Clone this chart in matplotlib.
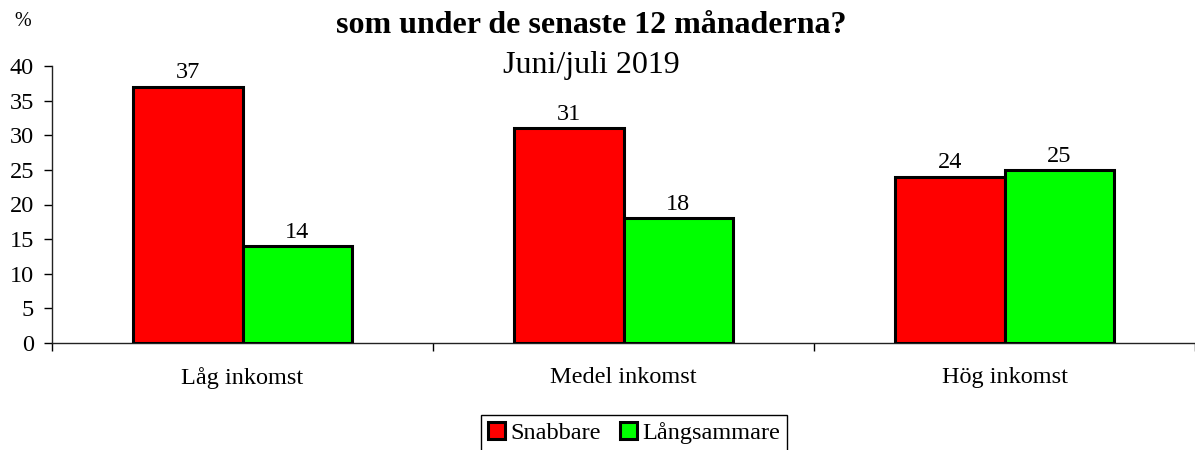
import matplotlib
matplotlib.use("Agg")
import matplotlib.pyplot as plt
import numpy as np

categories = ["Låg inkomst", "Medel inkomst", "Hög inkomst"]
series_names = ["Snabbare", "Långsammare"]
snabbare = [37, 31, 24]
langsammare = [14, 18, 25]
yticks = [0, 5, 10, 15, 20, 25, 30, 35, 40]
title = "som under de senaste 12 månaderna?"
subtitle = "Juni/juli 2019"

plt.rcParams['font.family'] = ['Liberation Serif', 'DejaVu Serif']

W, H = 1195, 450
fig = plt.figure(figsize=(W / 100, H / 100), dpi=100)
left_px, bottom_px, top_px = 52, 343, 66
group_px = 383
ax = fig.add_axes([left_px / W, 1 - bottom_px / H, (W - left_px) / W, (bottom_px - top_px) / H])

fs = 17.5
x = np.arange(len(categories))
bw = 0.287
b1 = ax.bar(x - bw / 2, snabbare, bw, color="#FF0000", edgecolor="black", linewidth=2.2, label=series_names[0], zorder=3)
b2 = ax.bar(x + bw / 2, langsammare, bw, color="#00FF00", edgecolor="black", linewidth=2.2, label=series_names[1], zorder=3)

for bars in (b1, b2):
    for r in bars:
        ax.annotate(f"{int(r.get_height())}", (r.get_x() + r.get_width() / 2, r.get_height()),
                    xytext=(0, 6), textcoords="offset points", ha="center", va="baseline", fontsize=fs)

xmax = -0.5 + (W - left_px) / group_px
ax.set_xlim(-0.5, xmax)
ax.set_ylim(0, 40)
ax.set_yticks(yticks)
ax.tick_params(axis='y', labelsize=fs, length=6, width=1, pad=7, direction='out')

ax.set_xticks([-0.5, 0.5, 1.5, 2.5])
ax.set_xticklabels([])
ax.set_xticks(x, minor=True)
ax.set_xticklabels(categories, minor=True)
ax.tick_params(axis='x', which='major', length=6, width=1, direction='out')
ax.tick_params(axis='x', which='minor', length=0, pad=17, labelsize=fs)

for s in ("top", "right"):
    ax.spines[s].set_visible(False)
for s in ("left", "bottom"):
    ax.spines[s].set_color("#222222")
    ax.spines[s].set_linewidth(1)

fig.text(591 / W, 1 - 33 / H, title, ha="center", va="baseline", fontsize=23, fontweight="bold")
fig.text(591 / W, 1 - 73 / H, subtitle, ha="center", va="baseline", fontsize=23)
fig.text(23 / W, 1 - 22 / H, "%", ha="center", va="center", fontsize=14.5)

leg = fig.legend(handles=[b1, b2], labels=series_names, loc="upper center",
                 bbox_to_anchor=(634 / W, 1 - 415 / H), ncol=2, fontsize=fs,
                 frameon=True, fancybox=False, edgecolor="black", framealpha=1,
                 handlelength=0.7, handleheight=0.7, handletextpad=0.2,
                 columnspacing=0.8, borderpad=0.3, borderaxespad=0)
leg.get_frame().set_linewidth(1)

fig.savefig("out.png", dpi=100)
